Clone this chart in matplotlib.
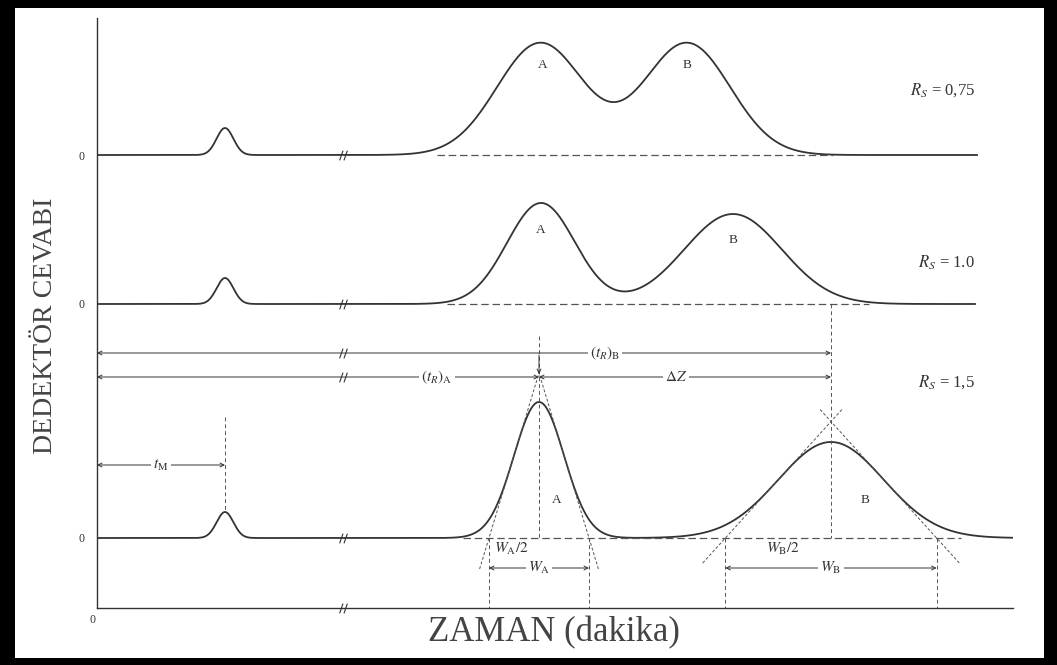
import numpy as np
import matplotlib
matplotlib.use('Agg')
import matplotlib.pyplot as plt
from matplotlib.patches import Rectangle
from matplotlib.path import Path

plt.rcParams['font.family'] = ['Liberation Serif', 'DejaVu Serif']
plt.rcParams['mathtext.fontset'] = 'stix'

# three chromatograms stacked on one time axis (arbitrary units)
rs_labels = ['$R_S$ = 0,75', '$R_S$ = 1.0', '$R_S$ = 1,5']
baselines = [45.3, 30.4, 7.0]
trace_end = [22.0, 21.95, 22.9]

dead_time = 3.2
dead_heights = [2.7, 2.6, 2.6]
dead_sigma = 0.21

peak_a_time = [11.08, 11.1, 11.05]
peak_a_height = [11.2, 10.1, 13.6]
peak_a_sigma = [1.08, 0.85, 0.625]

peak_b_time = [14.75, 15.9, 18.35]
peak_b_height = [11.2, 9.0, 9.6]
peak_b_sigma = [1.08, 1.22, 1.32]

dashed_span = [(8.5, 18.4), (8.75, 19.3), (9.15, 21.6)]
label_a_pos = [(11.15, 54.3), (11.1, 37.8), (11.5, 10.8)]
label_b_pos = [(14.75, 54.3), (15.9, 36.8), (19.2, 10.8)]
rs_label_y = [51.8, 34.5, 22.6]

axis_break = 6.15
tm_arrow_y = 14.3
tr_b_arrow_y = 25.5
tr_a_arrow_y = 23.1
width_arrow_y = 4.0
half_width_y = 5.9

INK = '#333333'
DASH = '#555555'


def gauss(t, center, height, sigma):
    return height * np.exp(-0.5 * ((t - center) / sigma) ** 2)


def dbl_arrow(ax, x0, x1, y, text=None, tx=None):
    ax.annotate('', xy=(x1, y), xytext=(x0, y),
                arrowprops=dict(arrowstyle='<->', color=INK, lw=0.7,
                                shrinkA=0, shrinkB=0, mutation_scale=7))
    if text is not None:
        ax.text(tx, y, text, ha='center', va='center', fontsize=11, color=INK,
                bbox=dict(fc='white', ec='none', pad=1.5))


def tangents(ax, center, height, sigma, base, below, above):
    apex = 2 * height * np.exp(-0.5)
    for side in (-1, 1):
        t_low = center + side * 2 * sigma * (1 + below / apex)
        t_high = center - side * 2 * sigma * above / apex
        ax.plot([t_low, t_high], [base - below, base + apex + above],
                color=DASH, lw=0.7, ls=(0, (3, 2)))


fig = plt.figure(figsize=(10.57, 6.65), dpi=100)
fig.patch.set_facecolor('black')
fig.add_artist(Rectangle((15 / 1057, 7 / 665), 1029 / 1057, 650 / 665,
                         transform=fig.transFigure, facecolor='white',
                         edgecolor='none', zorder=-10))

ax = fig.add_axes([97 / 1057, 57 / 665, 916 / 1057, 590 / 665])
ax.patch.set_alpha(0)
ax.set_xlim(0, 22.9)
ax.set_ylim(0, 59.0)
for side in ('top', 'right'):
    ax.spines[side].set_visible(False)
for side in ('left', 'bottom'):
    ax.spines[side].set_color(INK)
    ax.spines[side].set_linewidth(1.0)
ax.set_xticks([])
ax.set_yticks(baselines)
ax.set_yticklabels(['0'] * 3)
ax.tick_params(axis='y', length=0, pad=9, labelsize=8.5, labelcolor=INK)
ax.text(-0.1, -1.2, '0', ha='center', va='center', fontsize=8.5, color=INK)

for i, base in enumerate(baselines):
    t = np.linspace(0, trace_end[i], 4000)
    r = (base + gauss(t, dead_time, dead_heights[i], dead_sigma)
         + gauss(t, peak_a_time[i], peak_a_height[i], peak_a_sigma[i])
         + gauss(t, peak_b_time[i], peak_b_height[i], peak_b_sigma[i]))
    ax.plot(t, r, color=INK, lw=1.3)
    ax.plot(dashed_span[i], [base, base], color=DASH, lw=0.9, ls=(0, (6, 3)))
    ax.text(*label_a_pos[i], 'A', ha='center', va='center', fontsize=9.5, color=INK)
    ax.text(*label_b_pos[i], 'B', ha='center', va='center', fontsize=9.5, color=INK)
    ax.text(21.95, rs_label_y[i], rs_labels[i], ha='right', va='center',
            fontsize=12, color=INK)

# axis break marks on every horizontal line
slash = Path([(-0.8, -1), (-0.1, 1), (0.1, -1), (0.8, 1)],
             [Path.MOVETO, Path.LINETO, Path.MOVETO, Path.LINETO])
break_rows = baselines + [tr_b_arrow_y, tr_a_arrow_y, 0.0]
ax.plot([axis_break] * len(break_rows), break_rows, ls='none', marker=slash,
        ms=7, mec=INK, mew=0.8, clip_on=False)

# construction lines on the lowest chromatogram
base = baselines[2]
ta, tb = peak_a_time[2], peak_b_time[2]
sa, sb = peak_a_sigma[2], peak_b_sigma[2]
vdash = dict(color=DASH, lw=0.7, ls=(0, (4, 3)))

ax.plot([dead_time, dead_time], [19.1, base + dead_heights[2]], **vdash)
ax.plot([ta, ta], [27.2, base], **vdash)
ax.plot([tb, tb], [baselines[1], base], **vdash)
for edge in (ta - 2 * sa, ta + 2 * sa, tb - 2 * sb, tb + 2 * sb):
    ax.plot([edge, edge], [base, 0], **vdash)

tangents(ax, ta, peak_a_height[2], sa, base, below=3.1, above=0.4)
tangents(ax, tb, peak_b_height[2], sb, base, below=2.5, above=1.2)

ax.annotate('', xy=(ta, 23.4), xytext=(ta, 25.3),
            arrowprops=dict(arrowstyle='->', color=INK, lw=0.7,
                            shrinkA=0, shrinkB=0, mutation_scale=7))

dbl_arrow(ax, 0, dead_time, tm_arrow_y, '$t_\\mathrm{M}$', 1.6)
dbl_arrow(ax, 0, tb, tr_b_arrow_y, '$(t_R)_\\mathrm{B}$', 12.7)
dbl_arrow(ax, 0, ta, tr_a_arrow_y, '$(t_R)_\\mathrm{A}$', 8.5)
dbl_arrow(ax, ta, tb, tr_a_arrow_y, '$\\Delta Z$', 14.48)
dbl_arrow(ax, ta - 2 * sa, ta + 2 * sa, width_arrow_y, '$W_\\mathrm{A}$', ta)
dbl_arrow(ax, tb - 2 * sb, tb + 2 * sb, width_arrow_y, '$W_\\mathrm{B}$', tb)
ax.text(10.35, half_width_y, '$W_\\mathrm{A}/2$', ha='center', va='center',
        fontsize=11, color=INK)
ax.text(17.15, half_width_y, '$W_\\mathrm{B}/2$', ha='center', va='center',
        fontsize=11, color=INK)

ax.set_xlabel('ZAMAN (dakika)', fontsize=25, color='#444444')
ax.xaxis.set_label_coords(0.499, -0.042)
ax.xaxis.label.set_va('center')
ax.set_ylabel('DEDEKTÖR CEVABI', fontsize=20, color='#444444')
ax.yaxis.set_label_coords(-0.056, 0.478)
ax.yaxis.label.set_va('center')

fig.savefig('out.png', dpi=100)
